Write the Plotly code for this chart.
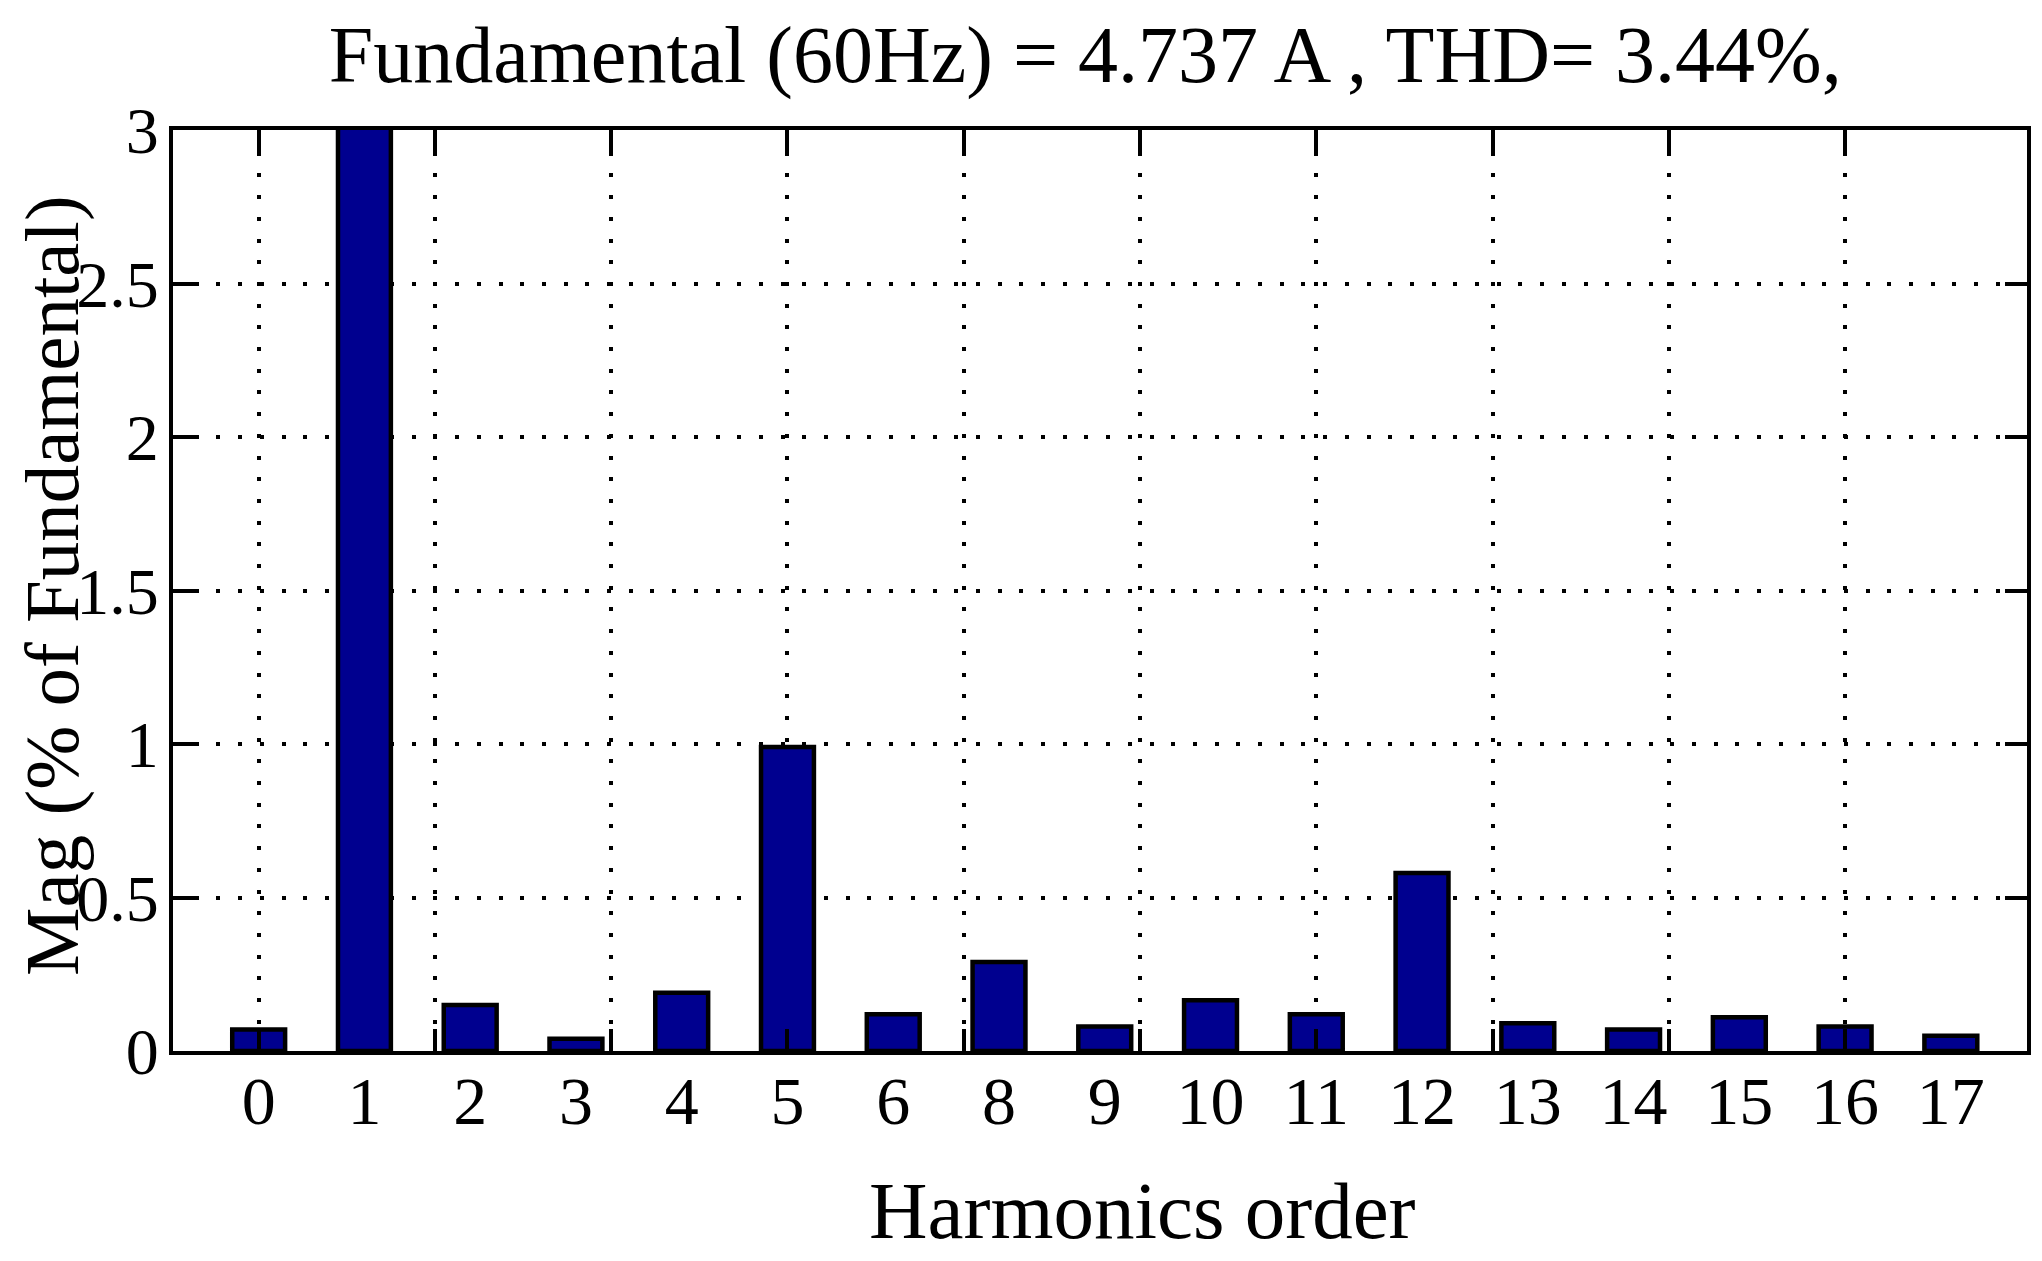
import plotly.graph_objects as go

# harmonic spectrum (% of fundamental)
harmonic_labels = ['0', '1', '2', '3', '4', '5', '6', '8', '9', '10',
                   '11', '12', '13', '14', '15', '16', '17']
magnitudes = [0.07, 100, 0.15, 0.04, 0.19, 0.99, 0.12, 0.29, 0.08, 0.165,
              0.12, 0.58, 0.09, 0.07, 0.11, 0.08, 0.05]
y_ticks = [0, 0.5, 1, 1.5, 2, 2.5, 3]
y_tick_text = ['0', '0.5', '1', '1.5', '2', '2.5', '3']

title_text = 'Fundamental (60Hz) = 4.737 A , THD= 3.44%,'
x_title = 'Harmonics order'
y_title = 'Mag (% of Fundamental)'

positions = list(range(len(harmonic_labels)))
grid_ticks = [i * 5 / 3 for i in range(10)]
x_range = [-0.81, 16.72]

serif = 'Liberation Serif, Times New Roman, serif'
dots = '4px,17.7px'

fig = go.Figure()
fig.add_trace(go.Bar(x=positions, y=magnitudes, width=0.5,
                     marker=dict(color='#00008F',
                                 line=dict(color='black', width=4.5)),
                     showlegend=False))
# empty trace so the label axis is drawn
fig.add_trace(go.Scatter(x=[], y=[], xaxis='x2', showlegend=False))

# page body has an 8px margin, so the figure is 8px smaller each way
fig.update_layout(
    width=2034, height=1253,
    margin=dict(l=165, r=11, t=122, b=210),
    paper_bgcolor='white', plot_bgcolor='white',
    font=dict(family=serif, color='black'),
    title=dict(text=title_text, x=0.492, xref='paper', xanchor='center',
               y=0.9633, yanchor='middle', font=dict(size=80)),
    xaxis=dict(range=x_range, tickmode='array', tickvals=grid_ticks,
               showticklabels=False, ticks='inside', ticklen=22, tickwidth=4,
               tickcolor='black', showgrid=True, gridcolor='black',
               gridwidth=4, griddash=dots, showline=True, linecolor='black',
               linewidth=4, mirror='ticks', zeroline=False),
    xaxis2=dict(overlaying='x', anchor='y', side='bottom', range=x_range,
                tickmode='array', tickvals=positions, ticktext=harmonic_labels,
                ticks='', showgrid=False, showline=False, zeroline=False,
                tickfont=dict(size=68), ticklabelstandoff=4),
    yaxis=dict(range=[0, 3], tickmode='array', tickvals=y_ticks,
               ticktext=y_tick_text, ticks='inside', ticklen=22, tickwidth=4,
               tickcolor='black', showgrid=True, gridcolor='black',
               gridwidth=4, griddash=dots, showline=True, linecolor='black',
               linewidth=4, mirror='ticks', zeroline=False,
               tickfont=dict(size=66), ticklabelstandoff=-3),
    annotations=[
        dict(text=x_title, xref='paper', yref='paper', x=0.523, y=-0.174,
             xanchor='center', yanchor='middle', showarrow=False,
             font=dict(size=81)),
        dict(text=y_title, xref='paper', yref='paper', x=-0.0653, y=0.506,
             xanchor='center', yanchor='middle', textangle=-90,
             showarrow=False, font=dict(size=77)),
    ],
)

fig.write_html('out.html')
